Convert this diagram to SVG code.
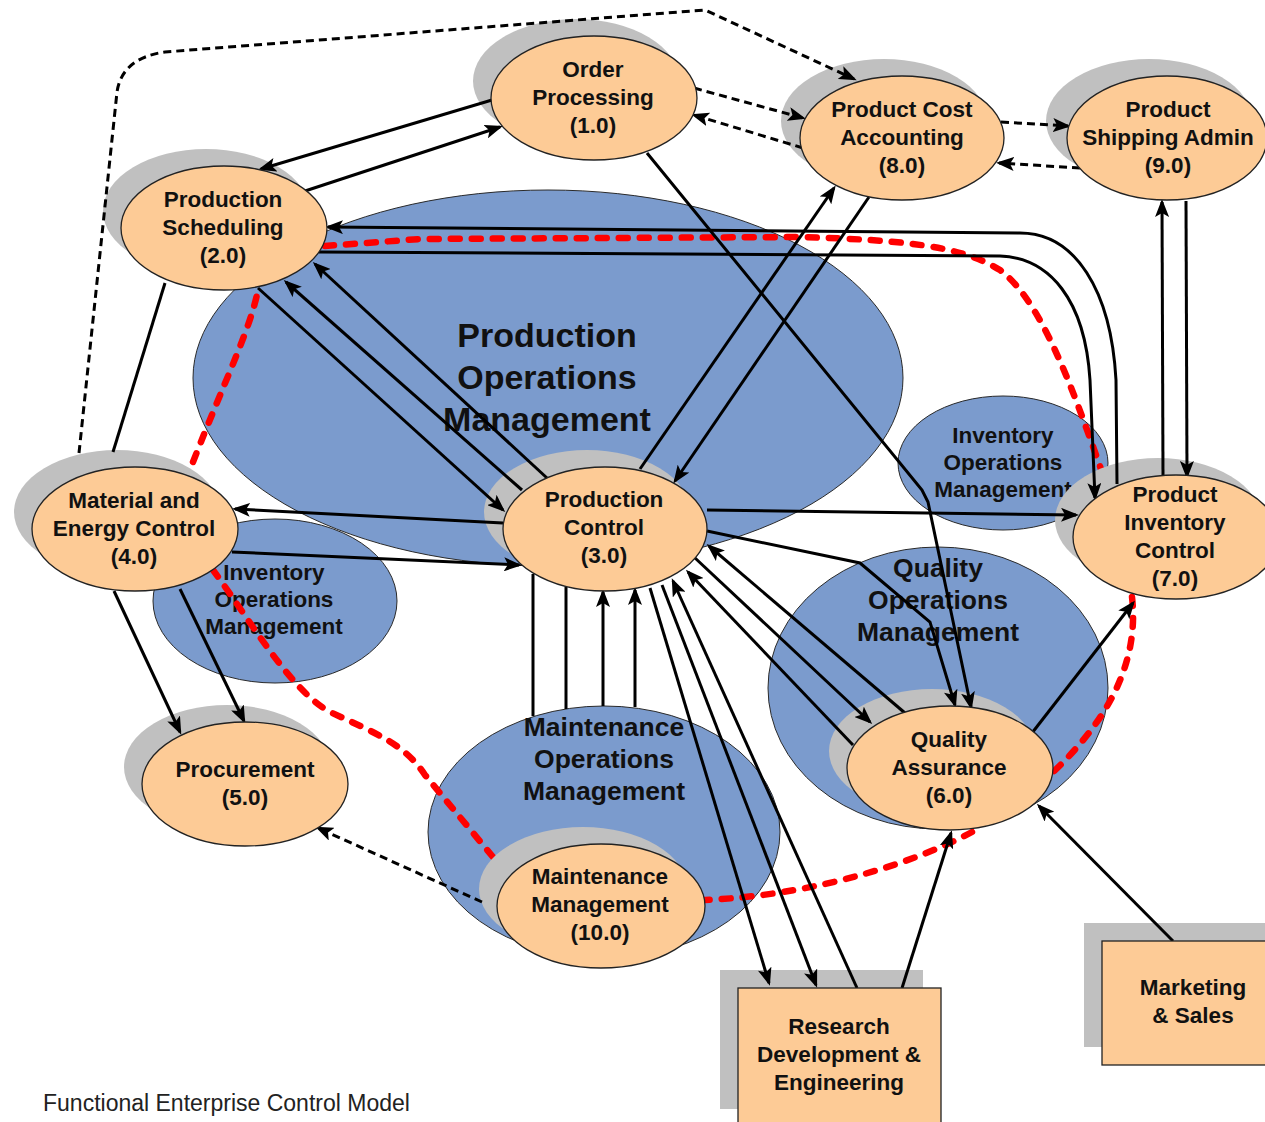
<svg xmlns="http://www.w3.org/2000/svg" width="1265" height="1122" viewBox="0 0 1265 1122">
  <defs>
    <marker id="arr" viewBox="0 0 18 14" refX="15" refY="7" markerWidth="18" markerHeight="14" markerUnits="userSpaceOnUse" orient="auto">
      <path d="M0,0 L18,7 L0,14 L4,7 Z" fill="#000"/>
    </marker>
    <style>
      .area { fill:#7b9bcd; stroke:#2a2a2a; stroke-width:1; }
      .node { fill:#fdcb96; stroke:#222; stroke-width:1.3; }
      .shadow { fill:#c0c0c0; }
      .lbl { font-family:"Liberation Sans", Arial, sans-serif; font-weight:bold; font-size:22.5px; fill:#111; text-anchor:middle; }
      .big { font-size:34px; }
      .mid { font-size:26.5px; }
      .cap { font-family:"Liberation Sans", Arial, sans-serif; font-size:23px; fill:#222; }
      .flow { fill:none; stroke:#000; stroke-width:3; marker-end:url(#arr); }
      .plain { fill:none; stroke:#000; stroke-width:3; }
      .dash { fill:none; stroke:#000; stroke-width:3; stroke-dasharray:8 5; marker-end:url(#arr); }
      .loop { fill:none; stroke:#f00; stroke-width:6.5; stroke-dasharray:9 12; stroke-linecap:round; }
    </style>
  </defs>

  <rect width="1265" height="1122" fill="#fff"/>

  <!-- operations management areas -->
  <g id="areas">
    <g id="area-production">
      <ellipse class="area" cx="548" cy="378" rx="355" ry="188"/>
      <text class="lbl big"><tspan x="547" y="347">Production</tspan><tspan x="547" y="389">Operations</tspan><tspan x="547" y="431">Management</tspan></text>
    </g>
    <g id="area-inventory-left">
      <ellipse class="area" cx="275" cy="601" rx="122" ry="82"/>
      <text class="lbl"><tspan x="274" y="580">Inventory</tspan><tspan x="274" y="607">Operations</tspan><tspan x="274" y="634">Management</tspan></text>
    </g>
    <g id="area-inventory-right">
      <ellipse class="area" cx="1003" cy="463" rx="105" ry="67"/>
      <text class="lbl"><tspan x="1003" y="443">Inventory</tspan><tspan x="1003" y="470">Operations</tspan><tspan x="1003" y="497">Management</tspan></text>
    </g>
    <g id="area-quality">
      <ellipse class="area" cx="938" cy="688" rx="170" ry="141"/>
      <text class="lbl mid"><tspan x="938" y="577">Quality</tspan><tspan x="938" y="609">Operations</tspan><tspan x="938" y="641">Management</tspan></text>
    </g>
    <g id="area-maintenance">
      <ellipse class="area" cx="604" cy="832" rx="176" ry="126"/>
      <text class="lbl mid"><tspan x="604" y="736">Maintenance</tspan><tspan x="604" y="768">Operations</tspan><tspan x="604" y="800">Management</tspan></text>
    </g>
  </g>

  <!-- red boundary loop -->
  <g id="boundary">
    <path class="loop" d="M 325 246 L 420 239 L 800 237 C 900 240 960 245 1000 270 C 1040 300 1070 380 1103 475
      M 1132 597 C 1138 650 1120 710 1050 775
      M 972 832 C 920 860 820 895 705 900
      M 493 857 L 425 775 C 405 745 380 735 330 712 C 290 690 250 620 213 570
      M 193 462 C 225 380 250 330 258 290"/>
  </g>

  <!-- node shadows -->
  <g id="shadows">
    <ellipse class="shadow" cx="576" cy="81" rx="103" ry="62"/>
    <ellipse class="shadow" cx="206" cy="211" rx="103" ry="62"/>
    <ellipse class="shadow" cx="587" cy="512" rx="103" ry="62"/>
    <ellipse class="shadow" cx="117" cy="512" rx="103" ry="62"/>
    <ellipse class="shadow" cx="227" cy="767" rx="103" ry="62"/>
    <ellipse class="shadow" cx="932" cy="751" rx="103" ry="62"/>
    <ellipse class="shadow" cx="1158" cy="520" rx="103" ry="62"/>
    <ellipse class="shadow" cx="884" cy="121" rx="103" ry="62"/>
    <ellipse class="shadow" cx="1149" cy="121" rx="103" ry="62"/>
    <ellipse class="shadow" cx="583" cy="889" rx="104" ry="62"/>
    <rect class="shadow" x="720" y="970" width="203" height="139"/>
    <rect class="shadow" x="1084" y="923" width="182" height="124"/>
  </g>

  <!-- information flows -->
  <g id="connectors">
    <path class="flow" d="M 492 100 L 261 169"/>
    <path class="flow" d="M 305 191 L 500 127"/>
    <path class="flow" d="M 647 153 L 922 490 L 928 502 L 971 707"/>
    <path class="flow" d="M 1117 484 L 1116 380 C 1111 290 1075 233 1020 233 L 328 227"/>
    <path class="flow" d="M 319 252 L 1000 256 C 1050 258 1085 300 1090 380 L 1095 498"/>
    <path class="flow" d="M 258 288 L 503 510"/>
    <path class="flow" d="M 522 490 L 286 282"/>
    <path class="flow" d="M 547 478 L 315 264"/>
    <path class="flow" d="M 503 523 L 235 509"/>
    <path class="flow" d="M 232 552 L 519 565"/>
    <path class="plain" d="M 165 283 L 113 452"/>
    <path class="flow" d="M 114 591 L 180 732"/>
    <path class="flow" d="M 180 589 L 244 721"/>
    <path class="flow" d="M 640 469 L 834 188"/>
    <path class="flow" d="M 869 197 L 675 481"/>
    <path class="flow" d="M 707 510 L 1076 515"/>
    <path class="flow" d="M 1163 477 L 1162 202"/>
    <path class="flow" d="M 1186 201 L 1187 476"/>
    <path class="flow" d="M 707 531 L 860 563 L 930 622 L 955 705"/>
    <path class="flow" d="M 905 713 L 709 546"/>
    <path class="flow" d="M 695 558 L 870 722"/>
    <path class="flow" d="M 853 745 L 688 572"/>
    <path class="flow" d="M 650 588 L 769 983"/>
    <path class="flow" d="M 662 585 L 816 985"/>
    <path class="flow" d="M 857 988 L 673 581"/>
    <path class="plain" d="M 533 574 L 533 716"/>
    <path class="plain" d="M 566 587 L 566 709"/>
    <path class="flow" d="M 603 706 L 603 592"/>
    <path class="flow" d="M 635 707 L 635 590"/>
    <path class="flow" d="M 1032 733 L 1133 603"/>
    <path class="flow" d="M 902 988 L 951 833"/>
    <path class="flow" d="M 1173 941 L 1039 806"/>
    <path class="dash" d="M 79 453 L 117 92 Q 122 58 165 52 L 705 10 L 854 79"/>
    <path class="dash" d="M 694 88 L 803 118"/>
    <path class="dash" d="M 803 148 L 694 115"/>
    <path class="dash" d="M 1001 122 L 1068 126"/>
    <path class="dash" d="M 1080 168 L 999 163"/>
    <path class="dash" d="M 482 902 L 318 828"/>
  </g>

  <!-- functions -->
  <g id="order-processing">
    <ellipse class="node" cx="594" cy="98" rx="103" ry="62"/>
    <text class="lbl"><tspan x="593" y="77">Order</tspan><tspan x="593" y="105">Processing</tspan><tspan x="593" y="133">(1.0)</tspan></text>
  </g>
  <g id="production-scheduling">
    <ellipse class="node" cx="224" cy="228" rx="103" ry="62"/>
    <text class="lbl"><tspan x="223" y="207">Production</tspan><tspan x="223" y="235">Scheduling</tspan><tspan x="223" y="263">(2.0)</tspan></text>
  </g>
  <g id="production-control">
    <ellipse class="node" cx="605" cy="529" rx="102" ry="62"/>
    <text class="lbl"><tspan x="604" y="507">Production</tspan><tspan x="604" y="535">Control</tspan><tspan x="604" y="563">(3.0)</tspan></text>
  </g>
  <g id="material-energy-control">
    <ellipse class="node" cx="135" cy="529" rx="103" ry="62"/>
    <text class="lbl"><tspan x="134" y="508">Material and</tspan><tspan x="134" y="536">Energy Control</tspan><tspan x="134" y="564">(4.0)</tspan></text>
  </g>
  <g id="procurement">
    <ellipse class="node" cx="245" cy="784" rx="103" ry="62"/>
    <text class="lbl"><tspan x="245" y="777">Procurement</tspan><tspan x="245" y="805">(5.0)</tspan></text>
  </g>
  <g id="quality-assurance">
    <ellipse class="node" cx="950" cy="768" rx="103" ry="62"/>
    <text class="lbl"><tspan x="949" y="747">Quality</tspan><tspan x="949" y="775">Assurance</tspan><tspan x="949" y="803">(6.0)</tspan></text>
  </g>
  <g id="product-inventory-control">
    <ellipse class="node" cx="1176" cy="537" rx="103" ry="62"/>
    <text class="lbl"><tspan x="1175" y="502">Product</tspan><tspan x="1175" y="530">Inventory</tspan><tspan x="1175" y="558">Control</tspan><tspan x="1175" y="586">(7.0)</tspan></text>
  </g>
  <g id="product-cost-accounting">
    <ellipse class="node" cx="902" cy="138" rx="102" ry="62"/>
    <text class="lbl"><tspan x="902" y="117">Product Cost</tspan><tspan x="902" y="145">Accounting</tspan><tspan x="902" y="173">(8.0)</tspan></text>
  </g>
  <g id="product-shipping-admin">
    <ellipse class="node" cx="1167" cy="138" rx="100" ry="62"/>
    <text class="lbl"><tspan x="1168" y="117">Product</tspan><tspan x="1168" y="145">Shipping Admin</tspan><tspan x="1168" y="173">(9.0)</tspan></text>
  </g>
  <g id="maintenance-management">
    <ellipse class="node" cx="601" cy="906" rx="104" ry="62"/>
    <text class="lbl"><tspan x="600" y="884">Maintenance</tspan><tspan x="600" y="912">Management</tspan><tspan x="600" y="940">(10.0)</tspan></text>
  </g>
  <g id="research-development-engineering">
    <rect class="node" x="738" y="988" width="203" height="139"/>
    <text class="lbl"><tspan x="839" y="1034">Research</tspan><tspan x="839" y="1062">Development &amp;</tspan><tspan x="839" y="1090">Engineering</tspan></text>
  </g>
  <g id="marketing-sales">
    <rect class="node" x="1102" y="941" width="182" height="124"/>
    <text class="lbl"><tspan x="1193" y="995">Marketing</tspan><tspan x="1193" y="1023">&amp; Sales</tspan></text>
  </g>

  <text class="cap" x="43" y="1111">Functional Enterprise Control Model</text>
</svg>
